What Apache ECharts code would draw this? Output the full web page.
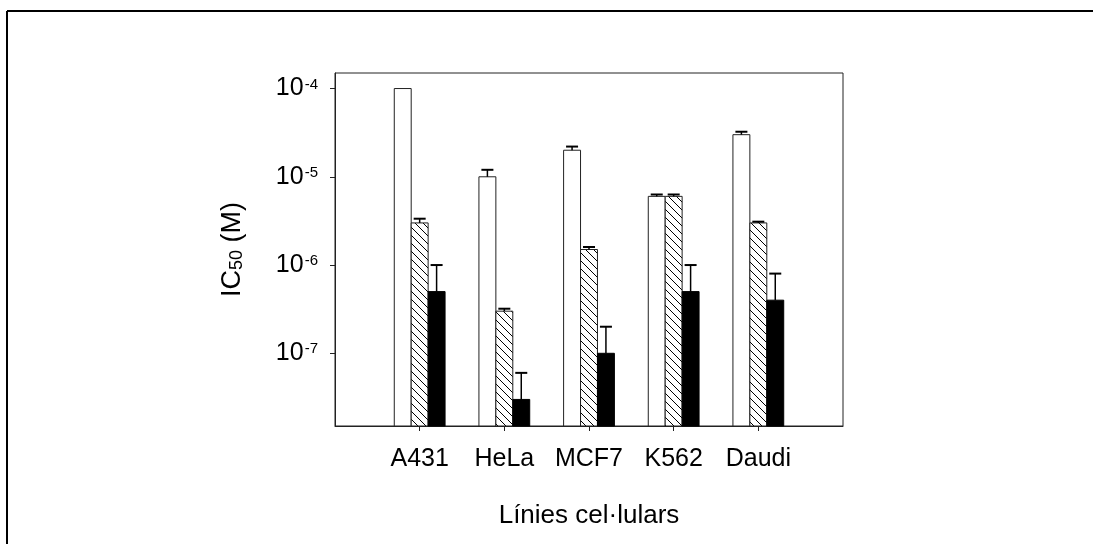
<!DOCTYPE html>
<html>
<head>
<meta charset="utf-8">
<script src="https://cdn.jsdelivr.net/npm/echarts@6/dist/echarts.min.js"></script>
<style>
  html, body { margin: 0; padding: 0; background: #fff; }
  #chart { width: 1093px; height: 544px; }
</style>
</head>
<body>
<div id="chart"></div>
<script>
// cell lines (blank slots at both ends keep the axis edges empty)
var cells = ['A431', 'HeLa', 'MCF7', 'K562', 'Daudi']
var categories = [''].concat(cells, [''])

// IC50 values (M) and upper error for each compound
var whiteVals = [1e-4, 1e-5, 2e-5, 6e-6, 3e-5]
var whiteErr = [0, 2e-6, 2e-6, 3e-7, 2.4e-6]
var hatchVals = [3e-6, 3e-7, 1.5e-6, 6e-6, 3e-6]
var hatchErr = [3.5e-7, 2e-8, 1e-7, 3e-7, 1e-7]
var blackVals = [5e-7, 3e-8, 1e-7, 5e-7, 4e-7]
var blackErr = [5e-7, 3e-8, 1e-7, 5e-7, 4e-7]

var yMin = 1.5e-8
var yMax = 1.5e-4

var font = 'Liberation Sans, Arial, sans-serif'

// diagonal hatch tile
var tile = document.createElement('canvas')
tile.width = 8
tile.height = 8
var tc = tile.getContext('2d')
tc.fillStyle = '#fff'
tc.fillRect(0, 0, 8, 8)
tc.strokeStyle = '#000'
tc.lineWidth = 1
tc.beginPath()
tc.moveTo(-1, -1); tc.lineTo(9, 9)
tc.moveTo(-1, 7); tc.lineTo(1, 9)
tc.moveTo(7, -1); tc.lineTo(9, 1)
tc.stroke()

function toData(vals, errs) {
  return vals.map(function (v, i) { return [i + 1, v, errs[i]] })
}

function barSeries(vals, errs, slot, fill, stroke) {
  return {
    type: 'custom',
    data: toData(vals, errs),
    z: 2,
    renderItem: function (params, api) {
      var band = api.size([1, 0])[0]
      var bw = band * 0.2
      var top = api.coord([api.value(0), api.value(1)])
      var base = api.coord([api.value(0), yMin])
      var left = top[0] + (slot - 0.5) * bw
      return {
        type: 'rect',
        shape: { x: left, y: top[1], width: bw, height: base[1] - top[1] },
        style: { fill: fill, stroke: stroke, lineWidth: 1 }
      }
    }
  }
}

function errSeries(vals, errs, slot) {
  return {
    type: 'custom',
    data: toData(vals, errs),
    z: 3,
    renderItem: function (params, api) {
      if (!api.value(2)) return
      var band = api.size([1, 0])[0]
      var bw = band * 0.2
      var top = api.coord([api.value(0), api.value(1)])
      var hi = api.coord([api.value(0), api.value(1) + api.value(2)])
      var cx = top[0] + slot * bw
      return {
        type: 'group',
        children: [
          { type: 'line', shape: { x1: cx, y1: top[1], x2: cx, y2: hi[1] }, style: { stroke: '#000', lineWidth: 1.5 } },
          { type: 'line', shape: { x1: cx - 6, y1: hi[1], x2: cx + 6, y2: hi[1] }, style: { stroke: '#000', lineWidth: 2 } }
        ]
      }
    }
  }
}

var chart = echarts.init(document.getElementById('chart'))
var option = {
  animation: false,
  backgroundColor: '#fff',
  textStyle: { fontFamily: font },
  grid: {
    left: 335, right: 250, top: 73, bottom: 118,
    show: true, borderColor: '#222', borderWidth: 1, backgroundColor: 'transparent'
  },
  graphic: [
    { type: 'line', shape: { x1: 7, y1: 11, x2: 1093, y2: 11 }, style: { stroke: '#000', lineWidth: 2 } },
    { type: 'line', shape: { x1: 7, y1: 11, x2: 7, y2: 544 }, style: { stroke: '#000', lineWidth: 2 } }
  ],
  xAxis: {
    type: 'category',
    data: categories,
    boundaryGap: false,
    name: 'Línies cel·lulars',
    nameLocation: 'middle',
    nameGap: 77,
    nameTextStyle: { fontSize: 26, color: '#000', fontFamily: font },
    axisLine: { lineStyle: { color: '#222', width: 1 } },
    axisTick: {
      length: 5,
      lineStyle: { color: '#222' },
      interval: function (i) { return i > 0 && i < categories.length - 1 }
    },
    axisLabel: {
      fontSize: 25, color: '#000', margin: 21, fontFamily: font,
      interval: function (i) { return i > 0 && i < categories.length - 1 }
    },
    splitLine: { show: false }
  },
  yAxis: {
    type: 'log',
    logBase: 10,
    min: yMin,
    max: yMax,
    name: '{b|IC}{s|50}{b| (M)}',
    nameLocation: 'middle',
    nameRotate: 90,
    nameGap: 86,
    nameTextStyle: {
      color: '#000',
      rich: {
        b: { fontSize: 27, fontFamily: font, color: '#000', lineHeight: 32 },
        s: { fontSize: 18, fontFamily: font, color: '#000', lineHeight: 18, padding: [9, 0, 0, 0] }
      }
    },
    axisLine: { show: true, lineStyle: { color: '#222', width: 1 } },
    axisTick: { show: true, length: 5, lineStyle: { color: '#222' } },
    axisLabel: {
      margin: 17,
      color: '#000',
      showMinLabel: false,
      showMaxLabel: false,
      formatter: function (v) {
        var e = Math.log10(v)
        var r = Math.round(e)
        if (Math.abs(e - r) > 1e-6) return ''
        return '{b|10}{s|' + r + '}'
      },
      rich: {
        b: { fontSize: 25, fontFamily: font, color: '#000', lineHeight: 30 },
        s: { fontSize: 15, fontFamily: font, color: '#000', lineHeight: 15, padding: [0, 0, 8, 1] }
      }
    },
    splitLine: { show: false },
    minorTick: { show: false }
  },
  series: [
    barSeries(whiteVals, whiteErr, -1, '#fff', '#222'),
    barSeries(hatchVals, hatchErr, 0, { image: tile, repeat: 'repeat' }, '#222'),
    barSeries(blackVals, blackErr, 1, '#000', '#000'),
    errSeries(whiteVals, whiteErr, -1),
    errSeries(hatchVals, hatchErr, 0),
    errSeries(blackVals, blackErr, 1)
  ]
}
chart.setOption(option)
</script>
</body>
</html>
